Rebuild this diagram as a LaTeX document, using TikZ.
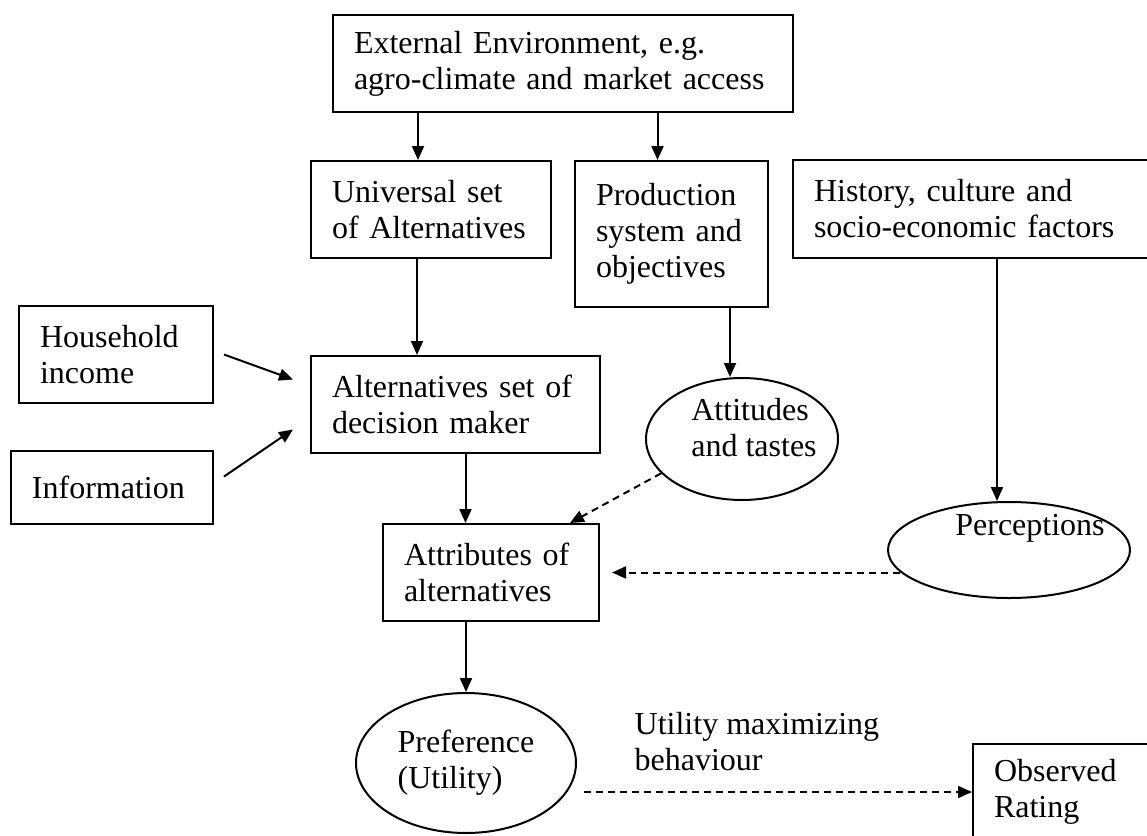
\documentclass[tikz,border=0pt]{standalone}
\usepackage{fontspec}
\setmainfont{Liberation Serif}
\usetikzlibrary{shapes.geometric,arrows.meta,calc}

\begin{document}
\begin{tikzpicture}[x=0.5pt, y=-0.5pt, line width=1pt,
  every node/.style={font=\fontsize{16}{18}\selectfont},
  main/.style={draw, anchor=north west, align=left, inner xsep=10.5pt, inner ysep=2pt},
  oval/.style={draw, ellipse, inner sep=0pt, align=left},
  arr/.style={-{Triangle[length=7pt,width=6pt]}},
  dsh/.style={arr, dash pattern=on 3.5pt off 2.5pt}]
\useasboundingbox (0,0) rectangle (1147,836);
\node[main, text width=209pt, minimum height=48.5pt] (ext) at (332,14) {External Environment, e.g.\\agro-climate and market access};
\node[main, text width=99pt, minimum height=48.5pt] (univ) at (310,160) {Universal set\\of Alternatives};
\node[main, text width=75.5pt, minimum height=73pt] (prod) at (574,160) {Production\\system and\\objectives};
\node[main, text width=159pt, minimum height=49pt] (hist) at (792,159) {History, culture and\\socio-economic factors};
\node[main, text width=76pt, minimum height=48.5pt] (house) at (18,305) {Household\\income};
\node[main, text width=80pt, minimum height=36.5pt] (info) at (10,450) {Information};
\node[main, text width=123.5pt, minimum height=48.5pt] (alt) at (310,355) {Alternatives set of\\decision maker};
\node[main, text width=87pt, minimum height=48.5pt] (attr) at (382,523) {Attributes of\\alternatives};
\node[oval, minimum width=96pt, minimum height=61pt, label={[name=atttext, align=left, xshift=6pt, yshift=5.5pt]center:{Attitudes\\and tastes}}] (att) at (742,439) {};
\node[oval, minimum width=121pt, minimum height=48pt, label={[name=perctext, xshift=10.5pt, yshift=11pt]center:Perceptions}] (perc) at (1009,550) {};
\node[oval, minimum width=110pt, minimum height=70pt] (pref) at (466,763) {Preference\\(Utility)};
\node[main, text width=100pt, minimum height=48pt] (obs) at (972,743) {Observed\\Rating};
\node[anchor=west, align=left] (umb) at (627,742) {Utility maximizing\\behaviour};
\draw[arr] ($(univ.north |- ext.south)+(-13,0)$) -- ($(univ.north)+(-13,0)$);
\draw[arr] ($(prod.north |- ext.south)+(-14,0)$) -- ($(prod.north)+(-14,0)$);
\draw[arr] ($(univ.south)+(-14,0)$) -- ($(univ.south |- alt.north)+(-14,0)$);
\draw[arr] ($(att.north |- prod.south)+(-12,0)$) -- ($(att.north)+(-12,0)$);
\draw[arr] ($(perc.north |- hist.south)+(-12,0)$) -- ($(perc.north)+(-12,0)$);
\draw[arr] ($(house.east)+(10,0)$) -- ($(alt.west)+(-17,-25)$);
\draw[arr] ($(info.east)+(10,-11)$) -- ($(alt.west)+(-17,25)$);
\draw[arr] ($(alt.south)+(10,0)$) -- ($(alt.south |- attr.north)+(10,0)$);
\draw[dsh] (att.203) -- ($(attr.north east)+(-30,0)$);
\draw[dsh] ($(perc.west |- attr.east)+(13,0)$) -- ($(attr.east)+(12,0)$);
\draw[arr] (pref.north |- attr.south) -- (pref.north);
\draw[dsh] ($(pref.east |- obs.west)+(7,0)$) -- (obs.west);
\end{tikzpicture}
\end{document}
